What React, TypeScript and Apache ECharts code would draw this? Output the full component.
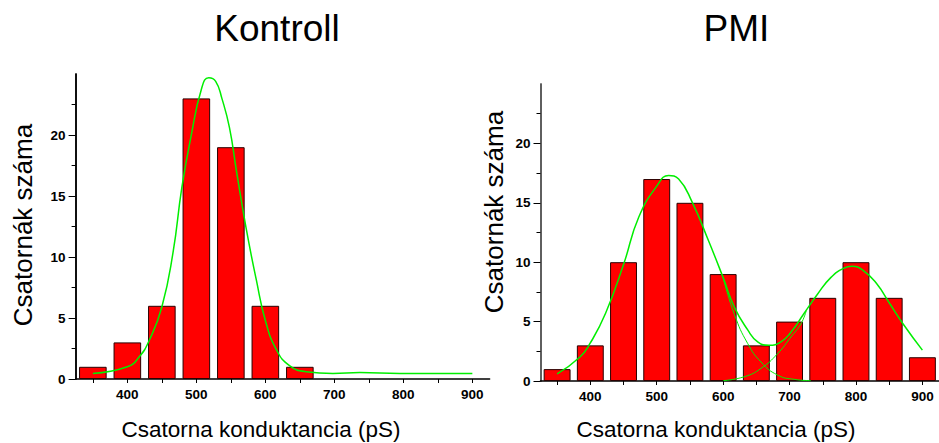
import React, { useEffect, useRef } from "react";
import * as echarts from "echarts";

const FONT = "'Liberation Sans', Arial, sans-serif";

// Histogram bins (pS) and counts
const kontrollBins = [350, 400, 450, 500, 550, 600, 650];
const kontrollCounts = [1, 3, 6, 23, 19, 6, 1];
const pmiBins = [350, 400, 450, 500, 550, 600, 650, 700, 750, 800, 850, 900];
const pmiCounts = [1, 3, 10, 17, 15, 9, 3, 5, 7, 10, 7, 2];

// Fitted curves
const kontrollFitX = [350, 400, 417, 432, 450, 466, 479, 492, 508, 518, 528, 537, 548, 558, 572, 587, 600, 616, 635, 659, 698, 737, 795, 900];
const kontrollFitY = [0.46, 1.0, 1.8, 3.2, 5.9, 10.3, 15.7, 19.8, 23.9, 24.7, 24.4, 23.0, 20.6, 17.1, 12.4, 8.1, 4.8, 2.4, 1.1, 0.6, 0.46, 0.54, 0.46, 0.46];

const pmiFitX = [350, 384, 400, 423, 450, 473, 500, 518, 533, 553, 578, 600, 617, 637, 652, 669, 687, 702, 722, 742, 762, 782, 794, 811, 831, 851, 871, 900];
const pmiFitY = [0.6, 2.0, 3.2, 5.7, 9.8, 13.8, 16.4, 17.3, 17.0, 15.1, 11.8, 8.7, 6.2, 4.3, 3.3, 3.0, 3.3, 4.1, 5.7, 7.3, 8.7, 9.5, 9.65, 9.3, 8.2, 6.5, 4.8, 2.6];

const pmiPeak1X = [600, 617, 637, 657, 682, 707, 732];
const pmiPeak1Y = [8.7, 5.6, 3.15, 1.6, 0.5, 0.14, 0.03];
const pmiPeak2X = [600, 632, 657, 682, 702, 717, 725];
const pmiPeak2Y = [0.03, 0.36, 1.06, 2.3, 3.7, 4.8, 5.9];

// Axis ticks
const xLabelValues = [400, 500, 600, 700, 800, 900];
const xTickValues = [350, 400, 450, 500, 550, 600, 650, 700, 750, 800, 850, 900];
const yLabelValues = [0, 5, 10, 15, 20];
const yMinorValues = [2.5, 7.5, 12.5, 17.5, 22.5];

const zip = (xs: number[], ys: number[]) => xs.map((x, i) => [x, ys[i]]);

export default function App() {
  const ref = useRef<HTMLDivElement>(null);

  useEffect(() => {
    if (!ref.current) return;
    const chart = echarts.init(ref.current, null, { renderer: "svg" });

    const xAxisBase = (gridIndex: number) => ({
      type: "value",
      gridIndex,
      position: "bottom",
      min: 325,
      max: 925,
      splitLine: { show: false },
      axisLine: { show: true, onZero: false, lineStyle: { color: "#000", width: 1.5 } },
      axisTick: { show: true, customValues: xTickValues, length: 4, lineStyle: { color: "#000", width: 1 } },
      axisLabel: {
        customValues: xLabelValues,
        margin: 8,
        fontFamily: FONT,
        fontWeight: "bold",
        fontSize: 13.5,
        color: "#000",
      },
    });

    const yAxisMajor = (gridIndex: number, lineColor: string) => ({
      type: "value",
      gridIndex,
      position: "left",
      min: 0,
      max: 25,
      splitLine: { show: false },
      axisLine: { show: true, onZero: false, lineStyle: { color: lineColor, width: 1.5 } },
      axisTick: { show: true, customValues: yLabelValues, length: 7, lineStyle: { color: "#000", width: 1 } },
      axisLabel: {
        customValues: yLabelValues,
        margin: 10,
        fontFamily: FONT,
        fontWeight: "bold",
        fontSize: 13.5,
        color: "#000",
      },
    });

    const yAxisMinor = (gridIndex: number, lineColor: string) => ({
      type: "value",
      gridIndex,
      position: "left",
      offset: 0,
      min: 0,
      max: 25,
      splitLine: { show: false },
      axisLine: { show: true, onZero: false, lineStyle: { color: lineColor, width: 1.5 } },
      axisTick: { show: true, customValues: yMinorValues, length: 4, lineStyle: { color: "#000", width: 1 } },
      axisLabel: { show: false },
    });

    const barStyle = { color: "#ff0000", borderColor: "#2a0000", borderWidth: 1 };
    const lineStyle = { color: "#00ee00", width: 1.5 };

    chart.setOption({
      animation: false,
      backgroundColor: "#fff",
      grid: [
        { left: 75.6, right: 449.4, top: 74, bottom: 64 },
        { left: 540.5, right: -5, top: 84, bottom: 62 },
      ],
      xAxis: [xAxisBase(0), xAxisBase(1)],
      yAxis: [yAxisMajor(0, "#000"), yAxisMinor(0, "#000"), yAxisMajor(1, "#555"), yAxisMinor(1, "#555")],
      series: [
        {
          type: "bar",
          xAxisIndex: 0,
          yAxisIndex: 0,
          barWidth: 27.6,
          itemStyle: barStyle,
          data: zip(kontrollBins, kontrollCounts),
        },
        {
          type: "line",
          xAxisIndex: 0,
          yAxisIndex: 0,
          smooth: true,
          showSymbol: false,
          lineStyle,
          itemStyle: { color: "#00ee00" },
          data: zip(kontrollFitX, kontrollFitY),
        },
        {
          type: "bar",
          xAxisIndex: 1,
          yAxisIndex: 2,
          barWidth: 26.9,
          itemStyle: barStyle,
          data: zip(pmiBins, pmiCounts),
        },
        {
          type: "line",
          xAxisIndex: 1,
          yAxisIndex: 2,
          smooth: true,
          showSymbol: false,
          lineStyle,
          itemStyle: { color: "#00ee00" },
          data: zip(pmiFitX, pmiFitY),
        },
        {
          type: "line",
          xAxisIndex: 1,
          yAxisIndex: 2,
          smooth: true,
          showSymbol: false,
          lineStyle: { color: "#00ee00", width: 1 },
          itemStyle: { color: "#00ee00" },
          data: zip(pmiPeak1X, pmiPeak1Y),
        },
        {
          type: "line",
          xAxisIndex: 1,
          yAxisIndex: 2,
          smooth: true,
          showSymbol: false,
          lineStyle: { color: "#00ee00", width: 1 },
          itemStyle: { color: "#00ee00" },
          data: zip(pmiPeak2X, pmiPeak2Y),
        },
      ],
      graphic: [
        {
          type: "text",
          x: 277,
          y: 28,
          style: { text: "Kontroll", font: `37px ${FONT}`, fill: "#000", textAlign: "center", textVerticalAlign: "middle" },
        },
        {
          type: "text",
          x: 736.5,
          y: 28,
          style: { text: "PMI", font: `37px ${FONT}`, fill: "#000", textAlign: "center", textVerticalAlign: "middle" },
        },
        {
          type: "text",
          x: 261,
          y: 429,
          style: { text: "Csatorna konduktancia (pS)", font: `22.5px ${FONT}`, fill: "#000", textAlign: "center", textVerticalAlign: "middle" },
        },
        {
          type: "text",
          x: 716,
          y: 429,
          style: { text: "Csatorna konduktancia (pS)", font: `22.5px ${FONT}`, fill: "#000", textAlign: "center", textVerticalAlign: "middle" },
        },
        {
          type: "text",
          x: 23,
          y: 225,
          rotation: Math.PI / 2,
          style: { text: "Csatornák száma", font: `26px ${FONT}`, fill: "#000", textAlign: "center", textVerticalAlign: "middle" },
        },
        {
          type: "text",
          x: 494,
          y: 212,
          rotation: Math.PI / 2,
          style: { text: "Csatornák száma", font: `26px ${FONT}`, fill: "#000", textAlign: "center", textVerticalAlign: "middle" },
        },
      ],
    });

    return () => chart.dispose();
  }, []);

  return (
    <div
      ref={ref}
      style={{ position: "fixed", left: 0, top: 0, width: 939, height: 443, background: "#fff" }}
    />
  );
}
